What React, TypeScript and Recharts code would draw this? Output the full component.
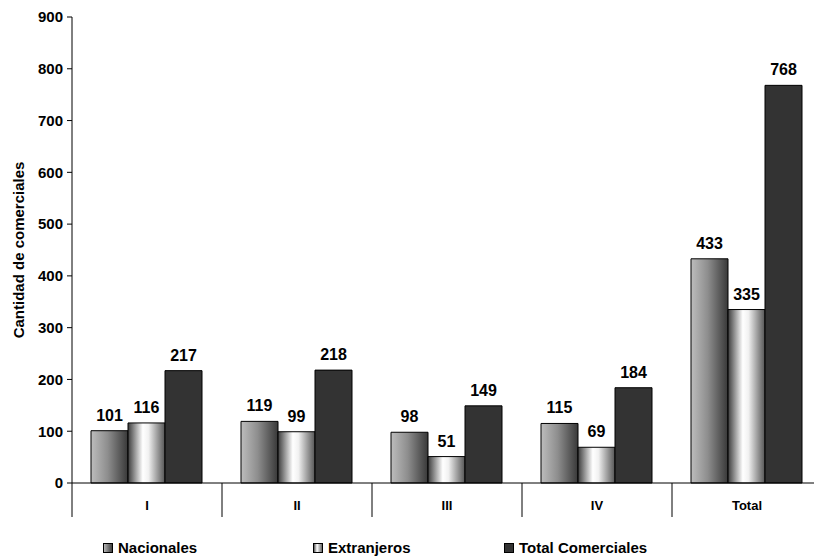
import React from 'react';
import { BarChart, Bar, XAxis, YAxis, LabelList } from 'recharts';

const categories = ['I', 'II', 'III', 'IV', 'Total'];
const nacionales = [101, 119, 98, 115, 433];
const extranjeros = [116, 99, 51, 69, 335];
const totalComerciales = [217, 218, 149, 184, 768];
const yTicks = [0, 100, 200, 300, 400, 500, 600, 700, 800, 900];

const data = categories.map((c, i) => ({
  cat: c,
  nac: nacionales[i],
  ext: extranjeros[i],
  tot: totalComerciales[i],
}));

const FONT = 'Arial, "Liberation Sans", Helvetica, sans-serif';

const XTick = (props: any) => {
  const { x, y, payload, index } = props;
  const half = payload && payload.offset ? payload.offset : 75;
  const last = index === categories.length - 1;
  return (
    <g>
      <line x1={x - half} y1={y} x2={x - half} y2={y + 34} stroke="#000" strokeWidth={1} />
      {last && <line x1={x + half} y1={y} x2={x + half} y2={y + 34} stroke="#000" strokeWidth={1} />}
      <text x={x} y={y + 27} textAnchor="middle" fontFamily={FONT} fontWeight="bold" fontSize={13} fill="#000">
        {payload.value}
      </text>
    </g>
  );
};

const YLabel = (props: any) => {
  const vb = props.viewBox || {};
  const cx = 18;
  const cy = (vb.y || 0) + (vb.height || 0) / 2;
  return (
    <text x={cx} y={cy} transform={`rotate(-90, ${cx}, ${cy})`} textAnchor="middle" dominantBaseline="central"
      fontFamily={FONT} fontWeight="bold" fontSize={15} fill="#000">
      Cantidad de comerciales
    </text>
  );
};

const legendItems = [
  { name: 'Nacionales', fill: 'url(#gNacL)', left: 103 },
  { name: 'Extranjeros', fill: 'url(#gExtL)', left: 313 },
  { name: 'Total Comerciales', fill: '#333333', left: 504 },
];

export default function App() {
  return (
    <div style={{ position: 'absolute', left: 0, top: 0, width: 814, height: 560, overflow: 'hidden', background: '#fff' }}>
      <BarChart
        width={830}
        height={560}
        data={data}
        margin={{ top: 17, right: 8, bottom: 0, left: 0 }}
        barCategoryGap={19}
        barGap={0}
      >
        <defs>
          <linearGradient id="gNac" x1="0" y1="0" x2="1" y2="0">
            <stop offset="0%" stopColor="#bdbdbd" />
            <stop offset="45%" stopColor="#8e8e8e" />
            <stop offset="100%" stopColor="#383838" />
          </linearGradient>
          <linearGradient id="gExt" x1="0" y1="0" x2="1" y2="0">
            <stop offset="0%" stopColor="#3c3c3c" />
            <stop offset="40%" stopColor="#ffffff" />
            <stop offset="55%" stopColor="#f2f2f2" />
            <stop offset="100%" stopColor="#555555" />
          </linearGradient>
        </defs>
        <XAxis
          dataKey="cat"
          height={77}
          tickSize={0}
          tickMargin={0}
          tickLine={false}
          axisLine={{ stroke: '#000', strokeWidth: 1 }}
          tick={<XTick />}
          interval={0}
        />
        <YAxis
          width={72}
          domain={[0, 900]}
          ticks={yTicks}
          interval={0}
          tickSize={5}
          tickMargin={4}
          axisLine={{ stroke: '#000', strokeWidth: 1 }}
          tickLine={{ stroke: '#000', strokeWidth: 1 }}
          tick={{ fontFamily: FONT, fontWeight: 'bold', fontSize: 15, fill: '#000' }}
          label={<YLabel />}
        />
        <Bar dataKey="nac" fill="url(#gNac)" stroke="#000" strokeWidth={1} isAnimationActive={false}>
          <LabelList dataKey="nac" position="top" offset={10} style={{ fontFamily: FONT, fontWeight: 'bold', fontSize: 16, fill: '#000' }} />
        </Bar>
        <Bar dataKey="ext" fill="url(#gExt)" stroke="#000" strokeWidth={1} isAnimationActive={false}>
          <LabelList dataKey="ext" position="top" offset={10} style={{ fontFamily: FONT, fontWeight: 'bold', fontSize: 16, fill: '#000' }} />
        </Bar>
        <Bar dataKey="tot" fill="#333333" stroke="#000" strokeWidth={1} isAnimationActive={false}>
          <LabelList dataKey="tot" position="top" offset={10} style={{ fontFamily: FONT, fontWeight: 'bold', fontSize: 16, fill: '#000' }} />
        </Bar>
      </BarChart>
      <svg width={814} height={30} style={{ position: 'absolute', left: 0, top: 534 }}>
        <defs>
          <linearGradient id="gNacL" x1="0" y1="0" x2="1" y2="0">
            <stop offset="0%" stopColor="#bdbdbd" />
            <stop offset="100%" stopColor="#383838" />
          </linearGradient>
          <linearGradient id="gExtL" x1="0" y1="0" x2="1" y2="0">
            <stop offset="0%" stopColor="#3c3c3c" />
            <stop offset="40%" stopColor="#ffffff" />
            <stop offset="100%" stopColor="#555555" />
          </linearGradient>
        </defs>
        {legendItems.map((it) => (
          <g key={it.name}>
            <rect x={it.left + 0.5} y={9.5} width={9} height={9} fill={it.fill} stroke="#000" strokeWidth={1} />
            <text x={it.left + 15} y={19} fontFamily={FONT} fontWeight="bold" fontSize={15} fill="#000">
              {it.name}
            </text>
          </g>
        ))}
      </svg>
    </div>
  );
}
